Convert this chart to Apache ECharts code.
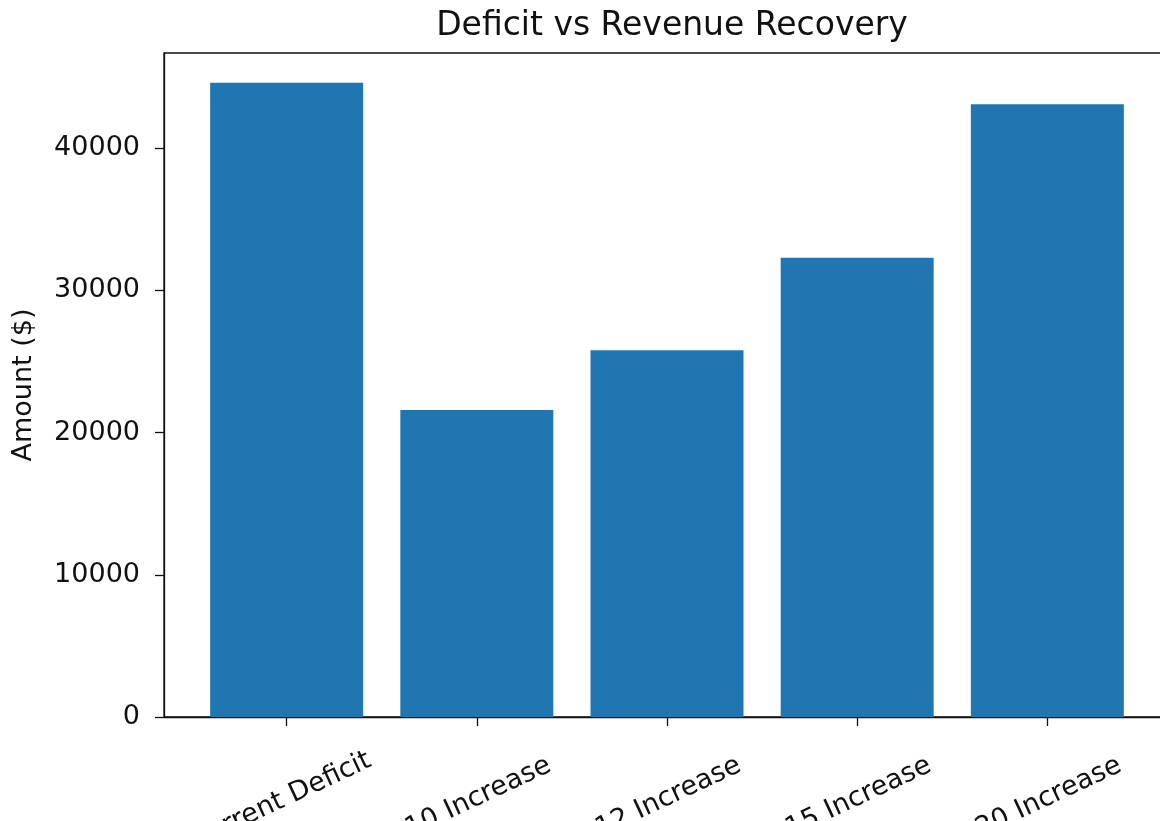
<!DOCTYPE html>
<html>
<head>
<meta charset="utf-8">
<title>Deficit vs Revenue Recovery</title>
<script src="https://cdn.jsdelivr.net/npm/echarts@6/dist/echarts.min.js"></script>
<style>
  html, body { margin: 0; padding: 0; background: #ffffff; overflow: hidden; }
  #chart { width: 1160px; height: 821px; }
</style>
</head>
<body>
<div id="chart"></div>
<script>
// Scenario labels and amounts
const categories = ['Current Deficit', '$10 Increase', '$12 Increase', '$15 Increase', '$20 Increase'];
const amounts = [44600, 21600, 25800, 32300, 43100];
const yTicks = [0, 10000, 20000, 30000, 40000];

const xPositions = categories.map((_, i) => i);
const barData = amounts.map((v, i) => [xPositions[i], v]);

const font = 'DejaVu Sans';
const ink = '#111111';
const chart = echarts.init(document.getElementById('chart'), null, { renderer: 'canvas' });

chart.setOption({
  animation: false,
  backgroundColor: '#ffffff',
  title: {
    text: 'Deficit vs Revenue Recovery',
    left: 667,
    textAlign: 'center',
    top: 5,
    textStyle: { fontFamily: font, fontSize: 33, fontWeight: 'normal', color: ink }
  },
  grid: {
    left: 164,
    top: 53,
    width: 1006,          // frame runs a little past the right edge
    height: 664,
    outerBoundsMode: 'none',
    show: true,
    borderColor: ink,
    borderWidth: 1.3,
    containLabel: false
  },
  xAxis: {
    type: 'value',
    min: -0.645,
    max: 4.645,
    splitLine: { show: false },
    axisLine: { show: true, onZero: false, lineStyle: { color: ink, width: 1.3 } },
    axisTick: { show: true, length: 9, lineStyle: { color: ink, width: 1.3 }, customValues: xPositions },
    axisLabel: {
      customValues: xPositions,
      formatter: v => categories[Math.round(v)],
      rotate: 25,
      align: 'center',
      verticalAlign: 'middle',
      margin: 81,
      padding: [0, 14, 0, 0],
      fontFamily: font,
      fontSize: 27,
      color: ink
    }
  },
  yAxis: {
    type: 'value',
    min: 0,
    max: 46700,
    name: 'Amount ($)',
    nameLocation: 'middle',
    nameGap: 127,
    nameTextStyle: { fontFamily: font, fontSize: 27, color: ink },
    splitLine: { show: false },
    axisLine: { show: true, onZero: false, lineStyle: { color: ink, width: 1.3 } },
    axisTick: { show: true, length: 9, lineStyle: { color: ink, width: 1.3 }, customValues: yTicks },
    axisLabel: {
      customValues: yTicks,
      formatter: v => String(v),
      margin: 24,
      fontFamily: font,
      fontSize: 27,
      color: ink
    }
  },
  series: [{
    type: 'bar',
    data: barData,
    barWidth: 153,
    itemStyle: { color: '#1f76b1' }
  }]
});
</script>
</body>
</html>
